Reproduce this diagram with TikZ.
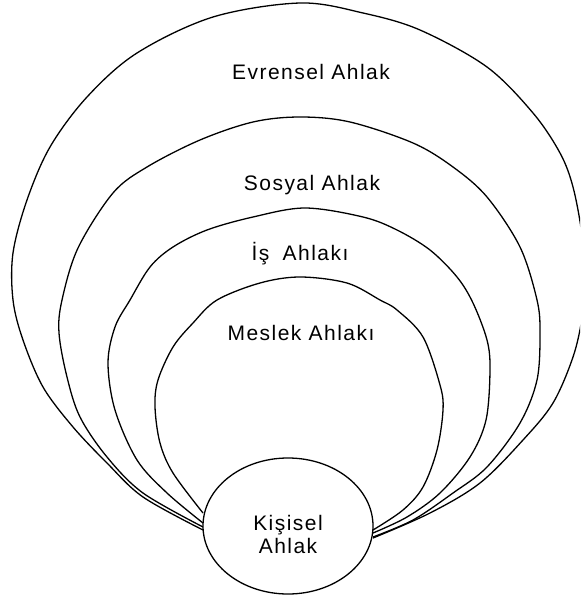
\documentclass[tikz,border=0pt]{standalone}
\usepackage{fontspec}
\setmainfont{Liberation Sans}
\newfontfamily\labfont[LetterSpace=7]{Liberation Sans}
\usetikzlibrary{shapes.geometric}
\begin{document}
\begin{tikzpicture}[x=1pt,y=-1pt,
  ring/.style={line width=1.3pt, line join=round},
  lab/.style={font=\labfont\fontsize{21pt}{23pt}\selectfont, inner sep=0pt, align=center}]
\useasboundingbox (0,0) rectangle (580,601);
\clip (0,0) rectangle (580,601);
% Evrensel
\draw[ring] plot[smooth, tension=0.55] coordinates {(203,530) (143,497) (107,463) (73,427) (43,387) (23,340) (13,300) (13,253) (27,200) (50,147) (87,97) (137,53) (213,17) (300,3) (363,13) (420,30) (487,67) (533,113) (560,153) (573,187) (582,235) (585,280) (582,318) (573,357) (553,403) (523,440) (480,483) (430,513) (373,538)};
% Sosyal
\draw[ring] plot[smooth, tension=0.55] coordinates {(203,527) (143,493) (107,457) (80,417) (67,377) (59,333) (62,300) (78,248) (113,193) (147,167) (200,140) (253,122) (300,117) (350,122) (413,143) (453,167) (487,197) (520,247) (537,300) (540,333) (537,380) (520,423) (487,467) (453,493) (413,520) (373,537)};
% Is
\draw[ring] plot[smooth, tension=0.55] coordinates {(203,523) (167,493) (137,460) (115,410) (108,363) (115,327) (130,300) (150,267) (173,247) (207,230) (253,217) (305,208) (363,217) (397,230) (430,250) (457,277) (473,303) (487,340) (490,370) (486,420) (470,457) (440,493) (407,517) (373,533)};
% Meslek
\draw[ring] plot[smooth, tension=0.55] coordinates {(203,513) (173,473) (160,443) (155,407) (158,380) (173,347) (193,323) (217,300) (260,283) (300,277) (347,283) (380,300) (397,310) (423,337) (440,385) (443,410) (437,450) (423,487) (403,510) (373,530)};
% Kisisel
\node[ellipse, draw, line width=1.3pt, fill=white, minimum width=170pt, minimum height=136pt, inner sep=0pt] (kisisel) at (288,526) {};
\node[lab] (kisiselt) at (288,534) {Kişisel\\Ahlak};
\node[lab] (evrensel) at (311,72) {Evrensel Ahlak};
\node[lab] (sosyal) at (312,185) {Sosyal Ahlak};
\node[lab] (is) at (300,254) {İş\hspace{6pt} Ahlakı};
\node[lab] (meslek) at (301,333) {Meslek Ahlakı};
\end{tikzpicture}
\end{document}
